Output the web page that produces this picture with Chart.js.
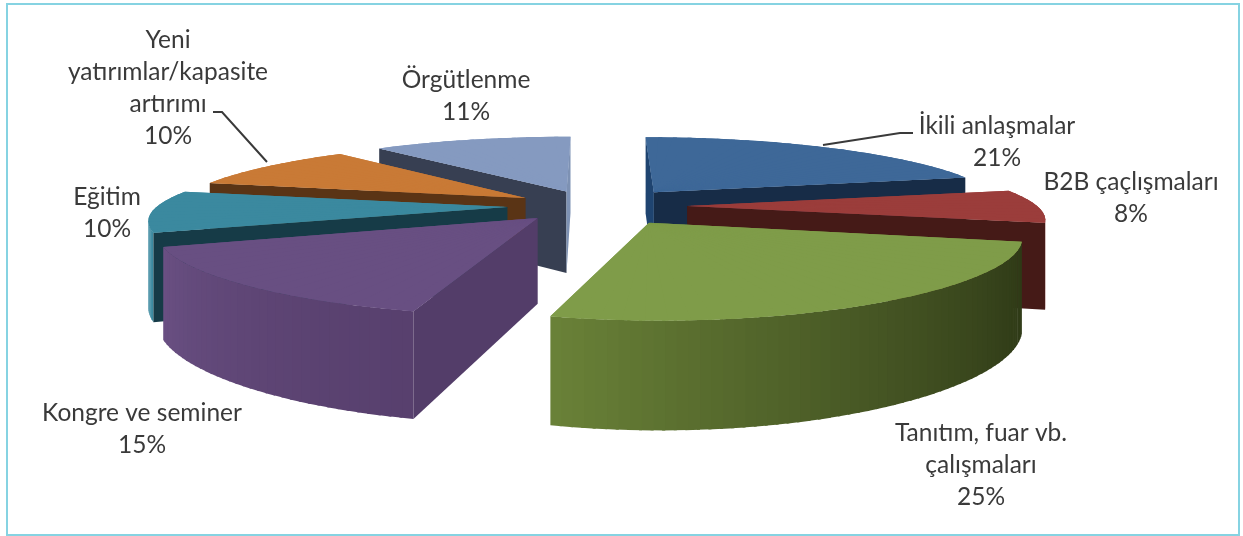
<!DOCTYPE html>
<html>
<head>
<meta charset="utf-8">
<title>Pie</title>
<script src="https://cdn.jsdelivr.net/npm/chart.js"></script>
<style>
    html, body { margin: 0; padding: 0; background: #fff; }
    #frame { position: absolute; left: 6px; top: 3px; width: 1230px; height: 529px; border: 2px solid #86d3e2; }
    #pie { position: absolute; left: 0; top: 0; filter: blur(0.6px); }
</style>
</head>
<body>
<div id="frame"></div>
<canvas id="pie" width="1243" height="536"></canvas>
<script>
var categories = ["İkili anlaşmalar", "B2B çaçlışmaları", "Tanıtım, fuar vb. çalışmaları", "Kongre ve seminer", "Eğitim", "Yeni yatırımlar/kapasite artırımı", "Örgütlenme"];
var shares = [21, 8, 25, 15, 10, 10, 11];

// text of each label, one entry per line
var labelLines = [
    ["İkili anlaşmalar", "21%"],
    ["B2B çaçlışmaları", "8%"],
    ["Tanıtım, fuar vb.", "çalışmaları", "25%"],
    ["Kongre ve seminer", "15%"],
    ["Eğitim", "10%"],
    ["Yeni", "yatırımlar/kapasite", "artırımı", "10%"],
    ["Örgütlenme", "11%"]
];
var labelCenters = [[997, 126], [1131, 182], [981, 433], [142, 413], [107, 197], [168, 40], [466, 80]];
var leaderLines = [
    [[823, 145], [900, 133], [913, 133]],
    [[213, 112], [222, 112], [267, 162]]
];

var topColors = ["#3e6898", "#9b3d3b", "#7f9c49", "#684f82", "#3b899f", "#c97a36", "#859ac0"];
var startFaceColors = ["#1f4470", "#451a17", "#5f7535", "#533d69", "#163b47", "#5a3415", "#373f52"];
var endFaceColors = ["#172c47", "#451a17", "#5f7535", "#533d69", "#163b47", "#5a3415", "#7d91b3"];
var rimStartColors = ["#172c47", "#7a2f2d", "#2f3a17", "#58406e", "#3b899f", "#5a3415", "#6b7d9c"];
var rimEndColors = ["#2f5580", "#8a3633", "#6a8238", "#6a5083", "#3b899f", "#a5622a", "#859ac0"];
var explode = [0.285, 0.263, 0.29, 0.24, 0.25, 0.24, 0.25];
var sliceSizes = [1, 1, 1, 1.03, 1, 1, 1];

// fake 3d camera, u/v are pie plane coordinates in radius units
var view = { cx: 595, cy: 206, sx: 350, sy: 63, perspX: 0.17, perspFront: 0.25, perspBack: 0.1, depth: 83 };
var PIE_RADIUS = 100;
var TOP_STEP = 3 * Math.PI / 180;
var RIM_STEP = 1.5 * Math.PI / 180;
var SEAM = 0.4 * Math.PI / 180;

function project(u, v, z) {
    var wx = 1 / (1 - view.perspX * v);
    var wy = 1 / (1 - (v > 0 ? view.perspFront : view.perspBack) * v);
    return {
        x: view.cx + view.sx * u * wx,
        y: view.cy + view.sy * v * wy + view.depth * z * Math.pow(wy, 0.75)
    };
}

function hexToRgb(hex) {
    return [parseInt(hex.substr(1, 2), 16), parseInt(hex.substr(3, 2), 16), parseInt(hex.substr(5, 2), 16)];
}

function mixColor(a, b, t) {
    var ca = hexToRgb(a), cb = hexToRgb(b);
    return "rgb(" + ca.map(function (c, i) { return Math.round(c + (cb[i] - c) * t); }).join(",") + ")";
}

// where the exploded slice apex sits on the pie plane
function sliceOrigin(arc, i) {
    var off = arc.options.offset / 4 / arc.outerRadius;
    var mid = (arc.startAngle + arc.endAngle) / 2;
    return { u: Math.cos(mid) * off, v: Math.sin(mid) * off, size: sliceSizes[i] };
}

function rimPoint(o, angle, z) {
    return project(o.u + o.size * Math.cos(angle), o.v + o.size * Math.sin(angle), z);
}

function fillPolygon(ctx, pts, color) {
    ctx.fillStyle = color;
    ctx.beginPath();
    pts.forEach(function (p, i) {
        if (i === 0) ctx.moveTo(p.x, p.y); else ctx.lineTo(p.x, p.y);
    });
    ctx.closePath();
    ctx.fill();
}

// draws a narrow piece of the arc element through the affine map of its triangle on screen
function drawWedge(ctx, arc, o, a0, a1, color, seamA, seamB) {
    var R = arc.outerRadius;
    var p = project(o.u, o.v, 0);
    var q0 = rimPoint(o, a0, 0);
    var q1 = rimPoint(o, a1, 0);

    var e0x = R * Math.cos(a0), e0y = R * Math.sin(a0);
    var e1x = R * Math.cos(a1), e1y = R * Math.sin(a1);
    var f0x = q0.x - p.x, f0y = q0.y - p.y;
    var f1x = q1.x - p.x, f1y = q1.y - p.y;
    var det = e0x * e1y - e1x * e0y;

    var m11 = (f0x * e1y - f1x * e0y) / det;
    var m12 = (f1x * e0x - f0x * e1x) / det;
    var m21 = (f0y * e1y - f1y * e0y) / det;
    var m22 = (f1y * e0x - f0y * e1x) / det;

    var piece = Object.create(arc);
    piece.x = 0;
    piece.y = 0;
    piece.startAngle = a0 - seamA;
    piece.endAngle = a1 + seamB;
    piece.circumference = piece.endAngle - piece.startAngle;
    piece.innerRadius = 0;
    piece.options = Object.assign({}, arc.options, { offset: 0, borderWidth: 0, backgroundColor: color });

    ctx.save();
    ctx.transform(m11, m21, m12, m22, p.x, p.y);
    piece.draw(ctx);
    ctx.restore();
}

// a side wall is only shown when it falls on the outer side of the radial edge
function faceVisible(o, angle, inward) {
    var p = project(o.u, o.v, 0);
    var q = rimPoint(o, angle, 0);
    var r = rimPoint(o, angle + inward, 0);
    var ex = q.x - p.x, ey = q.y - p.y;
    return (ex > 0) !== (ex * (r.y - p.y) - ey * (r.x - p.x) > 0);
}

function drawWall(ctx, o, angle, color) {
    fillPolygon(ctx, [
        project(o.u, o.v, 0),
        rimPoint(o, angle, 0),
        rimPoint(o, angle, 1),
        project(o.u, o.v, 1)
    ], color);
}

function drawSlice(ctx, arc, i) {
    var o = sliceOrigin(arc, i);
    var span = arc.endAngle - arc.startAngle;
    var n = Math.ceil(span / RIM_STEP);
    var k;

    // outer rim, front facing strips only
    for (k = 0; k < n; k++) {
        var a0 = arc.startAngle + span * k / n;
        var a1 = arc.startAngle + span * (k + 1) / n;
        var end = k === n - 1 ? a1 : a1 + SEAM;
        var q0 = rimPoint(o, a0, 0), q1 = rimPoint(o, end, 0);
        if (q1.x >= q0.x) continue;
        fillPolygon(ctx, [q0, q1, rimPoint(o, end, 1), rimPoint(o, a0, 1)],
            mixColor(rimStartColors[i], rimEndColors[i], Math.pow((k + 0.5) / n, 1.4)));
    }

    // radial walls
    if (faceVisible(o, arc.startAngle, 0.2)) drawWall(ctx, o, arc.startAngle, startFaceColors[i]);
    if (faceVisible(o, arc.endAngle, -0.2)) drawWall(ctx, o, arc.endAngle, endFaceColors[i]);

    // top surface, the polygon underneath stops the wedge seams showing white
    var m = Math.ceil(span / TOP_STEP);
    var under = [project(o.u, o.v, 0)];
    for (k = 0; k <= m; k++) {
        under.push(rimPoint(o, arc.startAngle + span * k / m, 0));
    }
    fillPolygon(ctx, under, topColors[i]);
    for (k = 0; k < m; k++) {
        drawWedge(ctx, arc, o, arc.startAngle + span * k / m, arc.startAngle + span * (k + 1) / m,
            topColors[i], k === 0 ? 0 : SEAM, k === m - 1 ? 0 : SEAM);
    }
}

var pie3dPlugin = {
    id: "pie3d",
    beforeDatasetDraw: function (chart) {
        var ctx = chart.ctx;
        var arcs = chart.getDatasetMeta(0).data;
        var order = arcs.map(function (a, i) { return i; });
        // back slices first
        order.sort(function (a, b) {
            return Math.sin((arcs[a].startAngle + arcs[a].endAngle) / 2) - Math.sin((arcs[b].startAngle + arcs[b].endAngle) / 2);
        });
        order.forEach(function (i) { drawSlice(ctx, arcs[i], i); });
        return false;
    },
    afterDraw: function (chart) {
        var ctx = chart.ctx;
        ctx.save();
        ctx.strokeStyle = "#3a3a3a";
        ctx.lineWidth = 2;
        leaderLines.forEach(function (line) {
            ctx.beginPath();
            line.forEach(function (pt, i) {
                if (i === 0) ctx.moveTo(pt[0], pt[1]); else ctx.lineTo(pt[0], pt[1]);
            });
            ctx.stroke();
        });
        ctx.font = "24.5px Lato";
        ctx.fillStyle = "#3a3a3a";
        ctx.textAlign = "center";
        ctx.textBaseline = "middle";
        labelLines.forEach(function (lines, i) {
            lines.forEach(function (txt, k) {
                ctx.fillText(txt, labelCenters[i][0], labelCenters[i][1] + k * 32);
            });
        });
        ctx.restore();
    }
};

new Chart(document.getElementById("pie"), {
    type: "pie",
    data: {
        labels: categories,
        datasets: [{
            data: shares,
            backgroundColor: topColors,
            borderWidth: 0,
            offset: explode.map(function (d) { return d * PIE_RADIUS * 4; })
        }]
    },
    options: {
        responsive: false,
        animation: false,
        radius: PIE_RADIUS,
        events: [],
        plugins: {
            legend: { display: false },
            tooltip: { enabled: false }
        }
    },
    plugins: [pie3dPlugin]
});
</script>
</body>
</html>
